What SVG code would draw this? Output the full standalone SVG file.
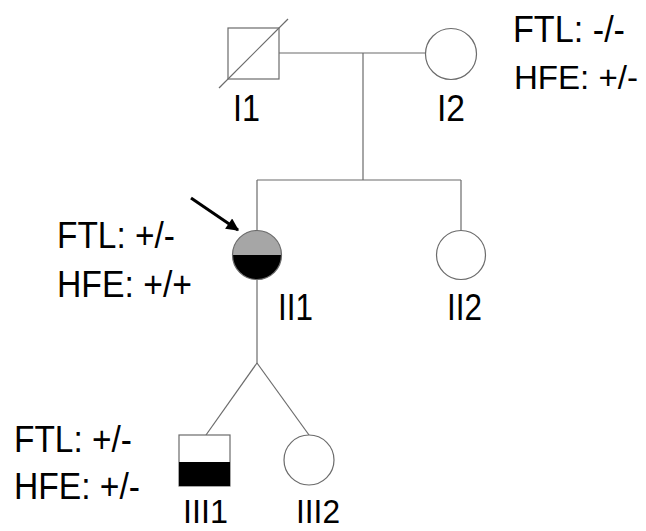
<svg xmlns="http://www.w3.org/2000/svg" width="646" height="531" viewBox="0 0 646 531">
<style>
.ln{stroke:#6b6b6b;stroke-width:1.2;fill:none}
.sh{stroke:#6b6b6b;stroke-width:1.2;fill:#fff}
.t{font-family:"Liberation Sans",Arial,sans-serif;font-size:36px;fill:#000}
.s{font-size:34px}
</style>
<defs>
<marker id="ah" viewBox="0 0 10 10" refX="9" refY="5" markerWidth="4.6" markerHeight="4.2" orient="auto" markerUnits="strokeWidth">
<path d="M0,0 L10,5 L0,10 z" fill="#000"/>
</marker>
<clipPath id="c2"><circle cx="257" cy="255" r="24.5"/></clipPath>
</defs>
<rect width="646" height="531" fill="#fff"/>
<g id="connectors">
<line class="ln" x1="279" y1="53" x2="426" y2="53"/>
<line class="ln" x1="363" y1="53" x2="363" y2="180"/>
<line class="ln" x1="257" y1="180" x2="461" y2="180"/>
<line class="ln" x1="257" y1="180" x2="257" y2="231"/>
<line class="ln" x1="461" y1="180" x2="461" y2="231"/>
<line class="ln" x1="257" y1="280" x2="257" y2="363"/>
<line class="ln" x1="257" y1="363" x2="206" y2="435"/>
<line class="ln" x1="257" y1="363" x2="309" y2="435"/>
<line x1="191" y1="198" x2="238" y2="230" stroke="#000" stroke-width="3" marker-end="url(#ah)"/>
</g>
<g id="I1">
<rect class="sh" x="228" y="28" width="51" height="51"/>
<line class="ln" x1="219" y1="88" x2="288" y2="19"/>
<text class="t" x="233" y="121" textLength="27" lengthAdjust="spacingAndGlyphs">I1</text>
</g>
<g id="I2">
<circle class="sh" cx="451" cy="54" r="25.5"/>
<text class="t" x="437" y="121" textLength="28" lengthAdjust="spacingAndGlyphs">I2</text>
<text class="t" x="513" y="42" textLength="112" lengthAdjust="spacingAndGlyphs">FTL: -/-</text>
<text class="t s" x="514" y="89" textLength="124" lengthAdjust="spacingAndGlyphs">HFE: +/-</text>
</g>
<g id="II1">
<g clip-path="url(#c2)">
<rect x="230" y="228" width="54" height="27" fill="#a6a6a6"/>
<rect x="230" y="255" width="54" height="27" fill="#000"/>
</g>
<circle cx="257" cy="255" r="24.5" fill="none" stroke="#6b6b6b" stroke-width="1.2"/>
<text class="t" x="278" y="320" textLength="35" lengthAdjust="spacingAndGlyphs">II1</text>
<text class="t" x="57" y="248" textLength="118" lengthAdjust="spacingAndGlyphs">FTL: +/-</text>
<text class="t" x="57" y="297" textLength="135" lengthAdjust="spacingAndGlyphs">HFE: +/+</text>
</g>
<g id="II2">
<circle class="sh" cx="461" cy="255" r="24.5"/>
<text class="t" x="447" y="320" textLength="35" lengthAdjust="spacingAndGlyphs">II2</text>
</g>
<g id="III1">
<rect class="sh" x="179" y="435" width="51" height="51"/>
<rect x="179" y="462" width="51" height="24" fill="#000"/>
<text class="t s" x="183" y="523" textLength="45" lengthAdjust="spacingAndGlyphs">III1</text>
<text class="t" x="14" y="452" textLength="118" lengthAdjust="spacingAndGlyphs">FTL: +/-</text>
<text class="t" x="14" y="499" textLength="126" lengthAdjust="spacingAndGlyphs">HFE: +/-</text>
</g>
<g id="III2">
<circle class="sh" cx="309" cy="460" r="25"/>
<text class="t s" x="296" y="523" textLength="44" lengthAdjust="spacingAndGlyphs">III2</text>
</g>
</svg>
